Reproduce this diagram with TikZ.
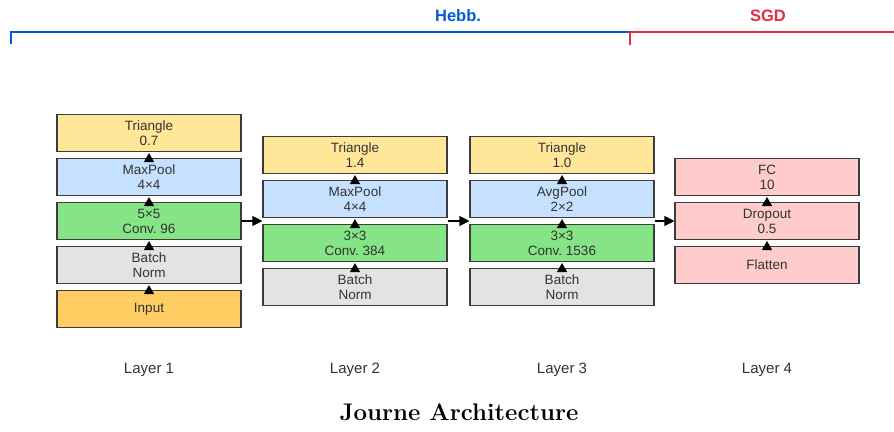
\documentclass[tikz,border=0pt]{standalone}
\usepackage{fontspec}
\setsansfont{Liberation Sans}
\usetikzlibrary{arrows.meta,calc}
\frenchspacing

\definecolor{triC}{RGB}{255,230,153}
\definecolor{poolC}{RGB}{198,224,255}
\definecolor{convC}{RGB}{133,228,133}
\definecolor{bnC}{RGB}{227,227,227}
\definecolor{inC}{RGB}{255,205,98}
\definecolor{fcC}{RGB}{255,204,204}
\definecolor{edgeC}{RGB}{60,60,60}
\definecolor{txtC}{RGB}{51,51,51}
\definecolor{hebbC}{RGB}{0,88,220}
\definecolor{sgdC}{RGB}{225,45,65}

\tikzset{
  blk/.style={draw=edgeC, line width=1.1pt, minimum width=184pt, minimum height=37pt,
    inner sep=0pt, align=center, text=txtC,
    font=\sffamily\fontsize{13.5}{15}\selectfont},
  upflow/.style={-{Triangle[length=9pt,width=10pt]}, line width=1pt, black},
  rightflow/.style={-{Triangle[length=10pt,width=10pt]}, line width=1.1pt, black},
  layerlbl/.style={text=txtC, font=\sffamily\fontsize{15}{17}\selectfont},
  phase/.style={font=\sffamily\bfseries\fontsize{16.5}{18}\selectfont},
}

\begin{document}
\begin{tikzpicture}[x=1pt,y=-1pt]
\useasboundingbox (0,0) rectangle (894,431);

% training-phase brackets
\draw[hebbC, line width=2.4pt] (11,44) -- (11,32) -- (630,32);
\draw[sgdC, line width=2.4pt] (630,32) -- (894,32);
\draw[sgdC, line width=2.4pt] (630,32) -- (630,45);
\node[phase, text=hebbC] (hebb) at (458,16) {Hebb.};
\node[phase, text=sgdC] (sgd) at (768,16) {SGD};

% Layer 1
\node[blk, fill=triC]  (t1) at (149,133) {Triangle\\0.7};
\node[blk, fill=poolC] (p1) at (149,177) {MaxPool\\4×4};
\node[blk, fill=convC] (c1) at (149,221) {5×5\\Conv. 96};
\node[blk, fill=bnC]   (b1) at (149,265) {Batch\\Norm};
\node[blk, fill=inC]   (i1) at (149,309) {Input};

% Layer 2
\node[blk, fill=triC]  (t2) at (355,155) {Triangle\\1.4};
\node[blk, fill=poolC] (p2) at (355,199) {MaxPool\\4×4};
\node[blk, fill=convC] (c2) at (355,243) {3×3\\Conv. 384};
\node[blk, fill=bnC]   (b2) at (355,287) {Batch\\Norm};

% Layer 3
\node[blk, fill=triC]  (t3) at (562,155) {Triangle\\1.0};
\node[blk, fill=poolC] (p3) at (562,199) {AvgPool\\2×2};
\node[blk, fill=convC] (c3) at (562,243) {3×3\\Conv. 1536};
\node[blk, fill=bnC]   (b3) at (562,287) {Batch\\Norm};

% Layer 4
\node[blk, fill=fcC] (f4) at (767,177) {FC\\10};
\node[blk, fill=fcC] (d4) at (767,221) {Dropout\\0.5};
\node[blk, fill=fcC] (l4) at (767,265) {Flatten};

% flow inside each layer
\foreach \lo/\hi in {i1/b1,b1/c1,c1/p1,p1/t1,
                     b2/c2,c2/p2,p2/t2,
                     b3/c3,c3/p3,p3/t3,
                     l4/d4,d4/f4}
  \draw[upflow] ([yshift=-3pt]\lo.north) -- ([yshift=-1pt]\hi.south);

% flow between layers
\coordinate (g2) at ($(p2.south west)!0.5!(c2.north west)$);
\coordinate (g2e) at ($(p2.south east)!0.5!(c2.north east)$);
\coordinate (g3) at ($(p3.south west)!0.5!(c3.north west)$);
\coordinate (g3e) at ($(p3.south east)!0.5!(c3.north east)$);
\draw[rightflow] (c1.east) -- (c1.east -| g2);
\draw[rightflow] (g2e) -- (g3);
\draw[rightflow] (g3e) -- (g3e -| d4.west);

% layer captions
\node[layerlbl] (L1) at (149,370) {Layer 1};
\node[layerlbl] (L2) at (355,370) {Layer 2};
\node[layerlbl] (L3) at (562,370) {Layer 3};
\node[layerlbl] (L4) at (767,370) {Layer 4};

\node[font=\bfseries\fontsize{24}{28}\selectfont] (title) at (459,412) {Journe Architecture};
\end{tikzpicture}
\end{document}
